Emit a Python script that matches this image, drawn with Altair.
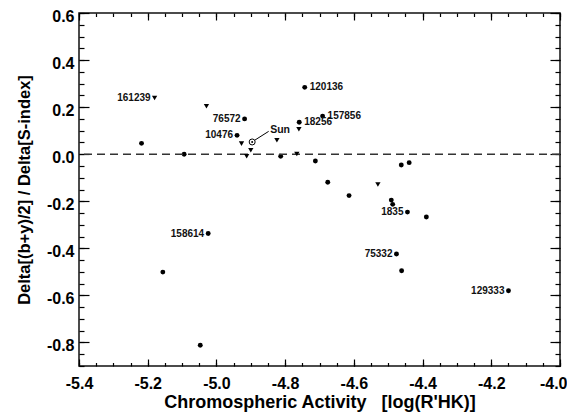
import altair as alt
import pandas as pd

# ---------------- data ----------------
dot_x = [-5.218, -5.094, -4.918, -4.940, -4.743, -4.691, -4.759, -4.813, -4.712,
         -4.676, -4.614, -4.462, -4.439, -4.491, -4.487, -4.444, -4.389, -4.476,
         -4.461, -5.024, -5.156, -5.047, -4.150]
dot_y = [0.046, 0.000, 0.150, 0.080, 0.284, 0.162, 0.136, -0.009, -0.029,
         -0.119, -0.176, -0.046, -0.036, -0.195, -0.213, -0.246, -0.267, -0.424,
         -0.495, -0.337, -0.501, -0.812, -0.580]
dot_label = ["", "", "76572", "10476", "120136", "157856", "18256", "", "",
             "", "", "", "", "", "", "1835", "", "75332",
             "", "158614", "", "", "129333"]
dot_side = ["", "", "L", "L", "R", "R", "R", "", "",
            "", "", "", "", "", "", "L", "", "L",
            "", "L", "", "", "L"]

tri_x = [-5.180, -5.029, -4.927, -4.912, -4.900, -4.760, -4.824, -4.766, -4.530]
tri_y = [0.239, 0.204, 0.045, -0.009, 0.017, 0.106, 0.059, 0.001, -0.129]
tri_label = ["161239", "", "", "", "", "", "", "", ""]
tri_side = ["L", "", "", "", "", "", "", "", ""]

sun_x = [-4.896]
sun_y = [0.052]
sun_line_x = [-4.888, -4.848]
sun_line_y = [0.060, 0.097]
sun_text = ["Sun"]

zero_line = [0.0]

x_major = [-5.4, -5.2, -5.0, -4.8, -4.6, -4.4, -4.2, -4.0]
x_major_mid = [-5.4, -5.2, -5.0, -4.8, -4.6, -4.4, -4.2]
x_major_end = [-4.0]
y_major = [-0.8, -0.6, -0.4, -0.2, 0.0, 0.2, 0.4, 0.6]
x_minor = [round(-5.4 + 0.05 * k, 2) for k in range(29)]
y_minor = [round(-0.9 + 0.05 * k, 2) for k in range(31)]

X_TITLE = "Chromospheric Activity\u00a0\u00a0\u00a0[log(R'HK)]"
Y_TITLE = "Delta[(b+y)/2] / Delta[S-index]"

# ---------------- chart ----------------
W, H = 481, 353
FONT = "Liberation Sans"
xs = alt.Scale(domain=[-5.4, -4.0], nice=False, zero=False)
ys = alt.Scale(domain=[-0.9, 0.6], nice=False, zero=False)
LBL = "replace(format(datum.value, '.1f'), '\u2212', '-')"

dots = pd.DataFrame({"x": dot_x, "y": dot_y, "label": dot_label, "side": dot_side})
tris = pd.DataFrame({"x": tri_x, "y": tri_y, "label": tri_label, "side": tri_side})
labels = pd.concat([dots, tris], ignore_index=True)
labels = labels[labels["label"] != ""]
sun = pd.DataFrame({"x": sun_x, "y": sun_y, "label": sun_text})
sun_line = pd.DataFrame({"x": sun_line_x, "y": sun_line_y})
zero = pd.DataFrame({"y": zero_line})

base = alt.Chart(dots).mark_circle(size=24, color="black", opacity=1).encode(
    x=alt.X("x:Q", scale=xs, axis=alt.Axis(
        orient="bottom", values=x_major_mid, labelExpr=LBL, tickSize=0, domain=False,
        grid=False, labelFont=FONT, labelFontSize=16, labelFontWeight="bold",
        labelColor="black", labelPadding=9, title=X_TITLE, titleFont=FONT,
        titleFontSize=18, titleFontWeight="bold", titleColor="black",
        titleBaseline="alphabetic", titleY=41, titleX=W / 2, titleAnchor="middle",
        labelFlush=False)),
    y=alt.Y("y:Q", scale=ys, axis=alt.Axis(
        orient="left", values=y_major, labelExpr=LBL, tickSize=0, domain=False,
        grid=False, labelFont=FONT, labelFontSize=16, labelFontWeight="bold",
        labelColor="black", labelPadding=5, labelOffset=3, title=Y_TITLE,
        titleFont=FONT, titleFontSize=16.5, titleFontWeight="bold",
        titleColor="black", titlePadding=14, labelFlush=False)),
)

# last x label (kept inside the page)
end_lbl = alt.Chart(dots).mark_point(opacity=0).encode(
    x=alt.X("x:Q", scale=xs, axis=alt.Axis(
        orient="bottom", values=x_major_end, labelExpr=LBL, tickSize=0, domain=False,
        grid=False, labelFont=FONT, labelFontSize=16, labelFontWeight="bold",
        labelColor="black", labelPadding=9, labelAlign="right", labelOffset=7,
        title=None, labelFlush=False)),
    y=alt.Y("y:Q", scale=ys, axis=None),
)


def tick_layer(xorient, yorient, xvals, yvals, xsize, ysize):
    return alt.Chart(dots).mark_point(opacity=0).encode(
        x=alt.X("x:Q", scale=xs, axis=alt.Axis(
            orient=xorient, offset=-H, values=xvals, tickSize=xsize, labels=False,
            domain=False, grid=False, title=None, tickColor="black", tickWidth=1.2)),
        y=alt.Y("y:Q", scale=ys, axis=alt.Axis(
            orient=yorient, offset=-W, values=yvals, tickSize=ysize, labels=False,
            domain=False, grid=False, title=None, tickColor="black", tickWidth=1.2)),
    )


t1 = tick_layer("top", "right", x_major, y_major, 7, 10)
t2 = tick_layer("top", "right", x_minor, y_minor, 3.5, 5)
t3 = tick_layer("bottom", "left", x_major, y_major, 7, 10)
t4 = tick_layer("bottom", "left", x_minor, y_minor, 3.5, 5)

zline = alt.Chart(zero).mark_rule(color="#333", strokeWidth=1.5, strokeDash=[8, 5]).encode(
    y=alt.Y("y:Q", scale=ys, axis=None))

tri_layer = alt.Chart(tris).mark_point(shape="triangle-down", filled=True, size=28,
                                       color="black", opacity=1).encode(
    x=alt.X("x:Q", scale=xs, axis=None), y=alt.Y("y:Q", scale=ys, axis=None))

sun_ring = alt.Chart(sun).mark_point(shape="circle", filled=False, size=36,
                                     color="black", strokeWidth=1, opacity=1).encode(
    x=alt.X("x:Q", scale=xs, axis=None), y=alt.Y("y:Q", scale=ys, axis=None))
sun_dot = alt.Chart(sun).mark_circle(size=4, color="black", opacity=1).encode(
    x=alt.X("x:Q", scale=xs, axis=None), y=alt.Y("y:Q", scale=ys, axis=None))
sun_conn = alt.Chart(sun_line).mark_line(color="black", strokeWidth=1).encode(
    x=alt.X("x:Q", scale=xs, axis=None), y=alt.Y("y:Q", scale=ys, axis=None))
sun_lbl = alt.Chart(sun).mark_text(align="left", baseline="middle", dx=18, dy=-12,
                                   font=FONT, fontSize=10.5, fontWeight="bold",
                                   color="#111").encode(
    x=alt.X("x:Q", scale=xs, axis=None), y=alt.Y("y:Q", scale=ys, axis=None),
    text="label:N")

lab_left = alt.Chart(labels[labels["side"] == "L"]).mark_text(
    align="right", baseline="middle", dx=-4, font=FONT, fontSize=10,
    fontWeight="bold", color="#111").encode(
    x=alt.X("x:Q", scale=xs, axis=None), y=alt.Y("y:Q", scale=ys, axis=None),
    text="label:N")
lab_right = alt.Chart(labels[labels["side"] == "R"]).mark_text(
    align="left", baseline="middle", dx=5, font=FONT, fontSize=10,
    fontWeight="bold", color="#111").encode(
    x=alt.X("x:Q", scale=xs, axis=None), y=alt.Y("y:Q", scale=ys, axis=None),
    text="label:N")

chart = alt.layer(
    base, end_lbl, t1, t2, t3, t4, zline, tri_layer, sun_ring, sun_dot, sun_conn,
    sun_lbl, lab_left, lab_right
).resolve_axis(x="independent", y="independent").properties(
    width=W, height=H,
    autosize=alt.AutoSizeParams(type="none"),
    padding={"left": 71, "top": 5, "right": 7, "bottom": 46},
    background="white",
).configure_view(stroke="#111", strokeWidth=1.5)

chart.save("out.html", embed_options={"renderer": "svg", "actions": False})
